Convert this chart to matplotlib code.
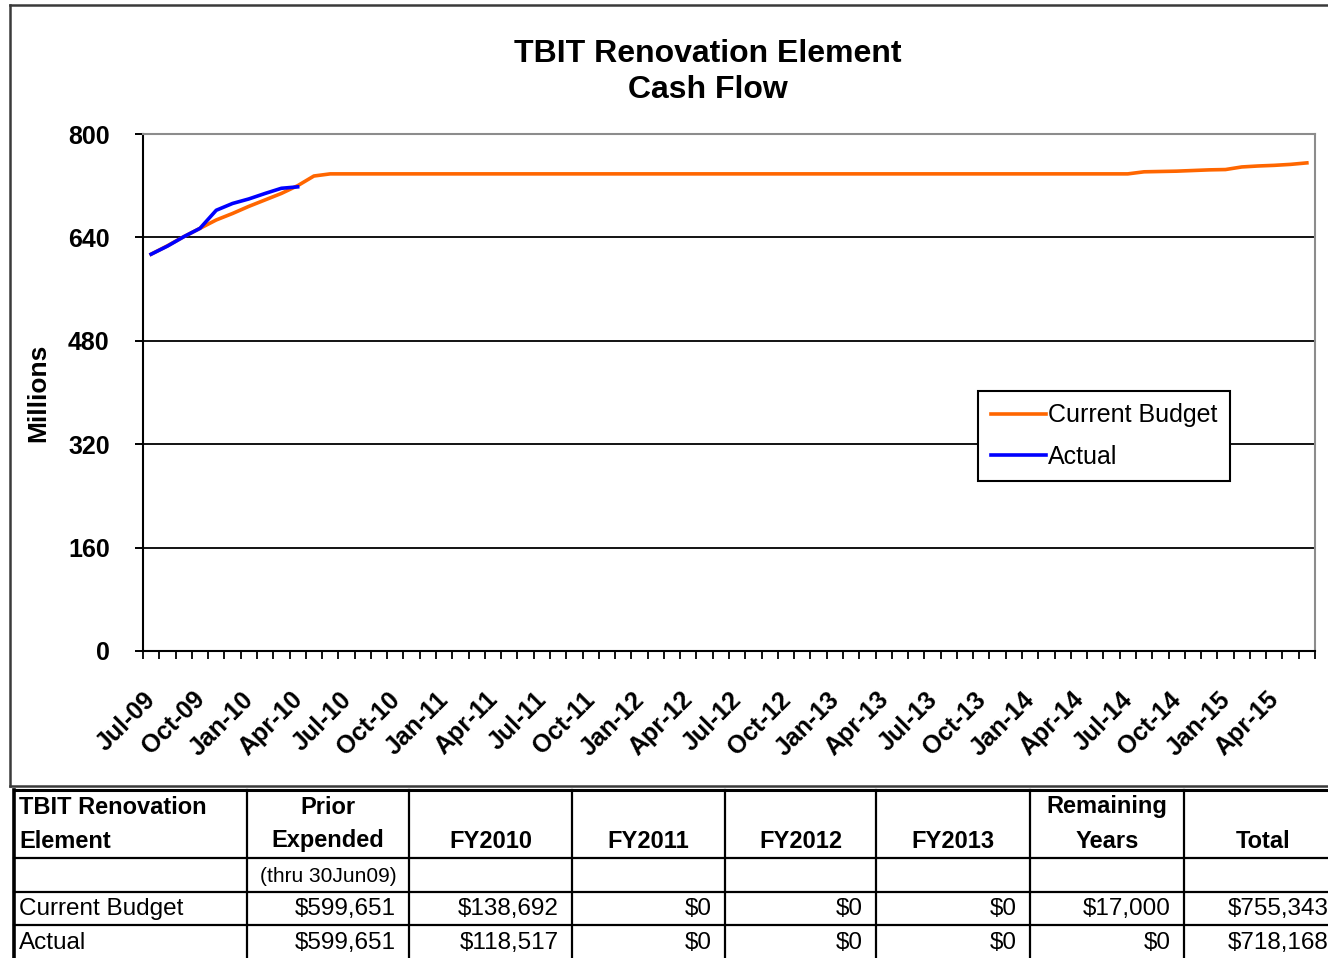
import matplotlib
matplotlib.use("Agg")
import matplotlib.pyplot as plt
import matplotlib.transforms as mtransforms
import numpy as np
import pandas as pd

plt.rcParams["font.family"] = ["Liberation Sans", "DejaVu Sans"]

W, H = 1328, 958

# monthly categories Jul-09 .. Jun-15
months = pd.date_range("2009-07-01", periods=72, freq="MS").strftime("%b-%y").tolist()

# cumulative cash flow, $ millions
budget = ([614, 627, 641, 654, 667, 677, 688, 698, 708, 720, 735]
          + [738.3] * 50
          + [741.5, 742, 742.5, 743.5, 744.5, 745, 749, 750.5, 751.5, 753, 755.3])
actual = [614, 626.5, 641, 654, 682, 692.5, 699.5, 708, 716, 718.2]

y_ticks = [0, 160, 320, 480, 640, 800]

# table under the chart
header = ["TBIT Renovation\nElement", "Prior\nExpended", "FY2010", "FY2011",
          "FY2012", "FY2013", "Remaining\nYears", "Total"]
sub_row = ["", "(thru 30Jun09)", "", "", "", "", "", ""]
budget_row = ["Current Budget", "$599,651", "$138,692", "$0", "$0", "$0",
              "$17,000", "$755,343"]
actual_row = ["Actual", "$599,651", "$118,517", "$0", "$0", "$0", "$0",
              "$718,168"]

fig = plt.figure(figsize=(W / 100, H / 100), dpi=100)
fig.patch.set_facecolor("white")

# overlay in pixel coords for the frame and the table
ov = fig.add_axes([0, 0, 1, 1], zorder=0)
ov.set_xlim(0, W)
ov.set_ylim(H, 0)
ov.axis("off")
ov.patch.set_visible(False)

# chart frame
frame_c = "#3a3a3a"
ov.plot([10, 10], [5, 786], color=frame_c, lw=1.8)
ov.plot([10, 1340], [5, 5], color=frame_c, lw=1.8)
ov.plot([10, 1340], [786, 786], color=frame_c, lw=1.8)

# table grid
col_edges = [14, 247, 409, 572, 725, 876, 1030, 1184, 1342]
row_edges = [790, 858, 892, 925, 960]
for i, x in enumerate(col_edges[:-1]):
    ov.plot([x, x], [790, 960], color="black", lw=2.6 if i == 0 else 1.6)
for i, y in enumerate(row_edges[:-1]):
    ov.plot([14, 1340], [y, y], color="black", lw=2.2 if i == 0 else 1.6)

for j, txt in enumerate(header):
    lines = txt.split("\n")
    for k, line in enumerate(reversed(lines)):
        y = 841 - 34 * k
        if j == 0:
            ov.text(19, y, line, ha="left", va="center", fontsize=17,
                    fontweight="bold")
        else:
            xc = (col_edges[j] + col_edges[j + 1]) / 2
            ov.text(xc, y, line, ha="center", va="center", fontsize=17,
                    fontweight="bold")

ov.text((col_edges[1] + col_edges[2]) / 2, 877, sub_row[1], ha="center",
        va="center", fontsize=15)

for row, y in [(budget_row, 909), (actual_row, 943)]:
    ov.text(19, y, row[0], ha="left", va="center", fontsize=17.5)
    for j in range(1, len(row)):
        ov.text(col_edges[j + 1] - 13, y, row[j], ha="right", va="center",
                fontsize=17.5)

# main plot
ax = fig.add_axes([143 / W, 1 - 651 / H, 1172 / W, 517 / H], zorder=1)
ax.plot(np.arange(len(budget)), budget, color="#FF6600", lw=2.6,
        label="Current Budget", zorder=3)
ax.plot(np.arange(len(actual)), actual, color="#0000FF", lw=2.6,
        label="Actual", zorder=4)

ax.set_xlim(-0.5, len(months) - 0.5)
ax.set_ylim(0, 800)
for v in y_ticks[1:-1]:
    ax.axhline(v, color="black", lw=1.3, zorder=1)

ax.set_yticks(y_ticks)
ax.set_yticklabels([str(v) for v in y_ticks], fontsize=18, fontweight="bold")
ax.tick_params(axis="y", length=6, width=1.4, pad=18)

ax.set_xticks(np.arange(0, len(months), 3))
ax.set_xticklabels(months[::3], rotation=45, ha="right", va="top",
                   rotation_mode="anchor", fontsize=18, fontweight="bold")
ax.set_xticks(np.arange(-0.5, len(months), 1), minor=True)
ax.tick_params(axis="x", which="major", length=0, pad=26)
ax.tick_params(axis="x", which="minor", length=6, width=1.3)
shift = mtransforms.ScaledTranslation(-5.5 / 72, 0, fig.dpi_scale_trans)
for lbl in ax.get_xticklabels():
    lbl.set_transform(lbl.get_transform() + shift)

for side in ["left", "bottom"]:
    ax.spines[side].set_color("black")
    ax.spines[side].set_linewidth(1.5)
for side in ["top", "right"]:
    ax.spines[side].set_color("#8c8c8c")
    ax.spines[side].set_linewidth(1.5)

leg = ax.legend(loc="upper left", bbox_to_anchor=(0.7125, 0.503),
                fontsize=18, frameon=True, fancybox=False, edgecolor="black",
                framealpha=1, handlelength=2.2, handletextpad=0.1,
                labelspacing=0.7, borderpad=0.5, borderaxespad=0)
leg.get_frame().set_linewidth(1.5)

fig.text(708 / W, 1 - 72 / H, "TBIT Renovation Element\nCash Flow",
         ha="center", va="center", fontsize=23, fontweight="bold",
         linespacing=1.25)
fig.text(38 / W, 1 - 393 / H, "Millions", rotation=90, ha="center",
         va="center", fontsize=19, fontweight="bold")

fig.savefig("out.png", dpi=100)
